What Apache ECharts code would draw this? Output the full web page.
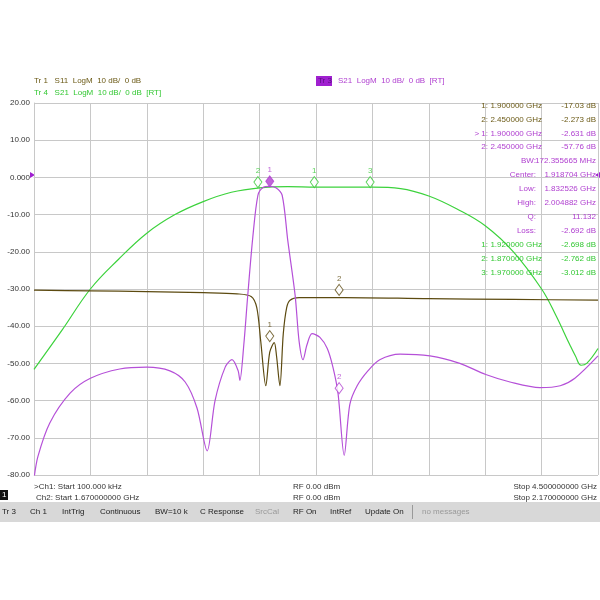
<!DOCTYPE html>
<html>
<head>
<meta charset="utf-8">
<script src="https://cdn.jsdelivr.net/npm/echarts@6/dist/echarts.min.js"></script>
</head>
<body style="margin:0">
<div id="c" style="width:600px;height:600px"></div>
<script>
// x is in screen divisions (0..10), y in dB
var s21Wide = [[0,-51.6],[0.5,-41],[1,-30],[1.5,-22],[2,-15],[2.5,-10],[3,-6.5],[3.5,-4],[4,-2.8],[4.5,-2.5],[5,-2.6],[6,-2.6],[6.5,-3],[7,-5],[7.5,-8.5],[8,-13],[8.5,-20],[9,-30],[9.25,-37],[9.5,-45],[9.6,-48],[9.7,-50.5],[9.8,-50],[10,-46]];
var s11 = [[0,-30.3],[1,-30.5],[2,-30.7],[3,-31],[3.6,-31.3],[3.85,-32],[3.95,-35],[4.02,-44],[4.11,-56],[4.18,-47],[4.26,-44.4],[4.3,-48],[4.36,-56],[4.42,-42],[4.48,-35],[4.54,-33],[4.7,-32.3],[5.5,-32.3],[7,-32.6],[8.5,-32.8],[10,-33]];
var s21Narrow = [[0,-81],[0.07,-75],[0.28,-66],[0.64,-58],[1,-54],[1.52,-51.5],[2,-51],[2.41,-52],[2.68,-55],[2.89,-62],[3.07,-73.5],[3.21,-60],[3.39,-51],[3.51,-49],[3.62,-52],[3.65,-54.6],[3.72,-45],[3.79,-31.7],[3.88,-16],[3.97,-4.8],[4.06,-2.7],[4.18,-2.4],[4.29,-2.8],[4.4,-4.8],[4.5,-17],[4.63,-31.7],[4.7,-44],[4.77,-49],[4.84,-45],[4.93,-42],[5.07,-43],[5.2,-46],[5.3,-51],[5.39,-58],[5.5,-74.7],[5.6,-61],[5.73,-56],[5.92,-52],[6.13,-49],[6.49,-47.5],[7.02,-48],[7.55,-50],[8.01,-53],[8.44,-55],[8.97,-56.5],[9.33,-56],[9.59,-54],[10,-48]];
var greenMarkers = [[3.97,-2.6,'2'],[4.97,-2.6,'1'],[5.96,-2.6,'3']];
var purpleMarkers = [[4.18,-2.4,'1'],[5.41,-58,'2']];
var oliveMarkers = [[4.18,-44,'1'],[5.41,-31.6,'2']];
var tableRows = [
  ['1:','1.900000 GHz','-17.03 dB','#6b5a16'],
  ['2:','2.450000 GHz','-2.273 dB','#6b5a16'],
  ['> 1:','1.900000 GHz','-2.631 dB','#b040d0'],
  ['2:','2.450000 GHz','-57.76 dB','#b040d0'],
  ['BW:','','172.355665 MHz','#b040d0'],
  ['Center:','','1.918704 GHz','#b040d0'],
  ['Low:','','1.832526 GHz','#b040d0'],
  ['High:','','2.004882 GHz','#b040d0'],
  ['Q:','','11.132','#b040d0'],
  ['Loss:','','-2.692 dB','#b040d0'],
  ['1:','1.920000 GHz','-2.698 dB','#33c833'],
  ['2:','1.870000 GHz','-2.762 dB','#33c833'],
  ['3:','1.970000 GHz','-3.012 dB','#33c833']
];
var statusItems = ['Tr 3','Ch 1','IntTrig','Continuous','BW=10 k','C Response','SrcCal','RF On','IntRef','Update On','no messages'];
var statusX = [2,30,62,100,155,200,255,293,330,365,422];

var FONT = 'Liberation Sans, Arial, sans-serif';
function txt(x, y, s, color, align, size) {
  return {type:'text', x:x, y:y, z:10, style:{text:s, fill:color, font:(size||8)+'px ' + FONT, textAlign:align||'left', textVerticalAlign:'middle'}};
}
var g = [];
g.push(txt(34,81,'Tr 1   S11  LogM  10 dB/  0 dB','#6b5a16'));
g.push(txt(34,93,'Tr 4   S21  LogM  10 dB/  0 dB  [RT]','#33c833'));
g.push({type:'rect', shape:{x:316,y:76,width:16,height:10}, style:{fill:'#a020d0'}});
g.push(txt(318,81,'Tr 3','#5a0f80'));
g.push(txt(338,81,'S21  LogM  10 dB/  0 dB  [RT]','#b040d0'));
for (var i = 0; i < tableRows.length; i++) {
  var r = tableRows[i], y = 105.5 + i * 13.9;
  if (r[1]) { g.push(txt(488,y,r[0],r[3],'right')); g.push(txt(542,y,r[1],r[3],'right')); }
  else g.push(txt(536,y,r[0],r[3],'right'));
  g.push(txt(596,y,r[2],r[3],'right'));
}
g.push({type:'polygon', shape:{points:[[30,172],[30,178],[35,175]]}, style:{fill:'#a020d0'}});
g.push({type:'polygon', shape:{points:[[600,172],[600,178],[595,175]]}, style:{fill:'#a020d0'}});
g.push(txt(34,487,'>Ch1: Start 100.000 kHz','#333'));
g.push(txt(36,498,'Ch2: Start 1.670000000 GHz','#333'));
g.push(txt(293,487,'RF 0.00 dBm','#333'));
g.push(txt(293,498,'RF 0.00 dBm','#333'));
g.push(txt(597,487,'Stop 4.500000000 GHz','#333','right'));
g.push(txt(597,498,'Stop 2.170000000 GHz','#333','right'));
g.push({type:'rect', shape:{x:0,y:490,width:8,height:10}, style:{fill:'#111'}});
g.push(txt(2,495,'1','#fff'));
g.push({type:'rect', shape:{x:0,y:502,width:600,height:20}, style:{fill:'#d8d8d8'}});
g.push({type:'rect', shape:{x:412,y:505,width:1,height:14}, style:{fill:'#999'}});
for (var k = 0; k < statusItems.length; k++) {
  var col = statusItems[k] === 'SrcCal' || statusItems[k] === 'no messages' ? '#999' : '#222';
  g.push(txt(statusX[k],512,statusItems[k],col));
}

function markerSeries(data, color, filledIndex) {
  return {type:'scatter', data:data.map(function(d, i){
      return {value:d, itemStyle: i === filledIndex ? {color:color} : undefined};
    }), symbol:'diamond', symbolSize:[8,11], symbolOffset:[0,-5],
    itemStyle:{color:'#fff', borderColor:color, borderWidth:1}, z:5,
    label:{show:true, position:'top', distance:1, color:color, fontSize:8, fontFamily:FONT, formatter:function(p){return p.value[2];}}};
}

var chart = echarts.init(document.getElementById('c'));
chart.setOption({
  backgroundColor:'#fff',
  animation:false,
  graphic:g,
  grid:{left:34, right:2, top:103, height:372},
  xAxis:{type:'value', min:0, max:10, interval:1, axisLabel:{show:false}, axisTick:{show:false},
    axisLine:{show:true, lineStyle:{color:'#c8c8c8'}}, splitLine:{lineStyle:{color:'#c8c8c8'}}},
  yAxis:{type:'value', min:-80, max:20, interval:10, axisTick:{show:false},
    axisLine:{show:true, lineStyle:{color:'#c8c8c8'}}, splitLine:{lineStyle:{color:'#c8c8c8'}},
    axisLabel:{color:'#333', fontSize:8, fontFamily:FONT, margin:4, formatter:function(v){return v === 0 ? '0.000' : v.toFixed(2);}}},
  series:[
    {type:'line', data:s21Wide, smooth:0.4, symbol:'none', lineStyle:{color:'#3cd23c', width:1.2}},
    {type:'line', data:s11, smooth:0.3, symbol:'none', lineStyle:{color:'#5c4a10', width:1.2}},
    {type:'line', data:s21Narrow, smooth:0.3, symbol:'none', lineStyle:{color:'#b550d8', width:1.2}},
    markerSeries(greenMarkers,'#33c833',-1),
    markerSeries(oliveMarkers,'#5c4a10',-1),
    markerSeries(purpleMarkers,'#b040d0',0)
  ]
});
</script>
</body>
</html>
